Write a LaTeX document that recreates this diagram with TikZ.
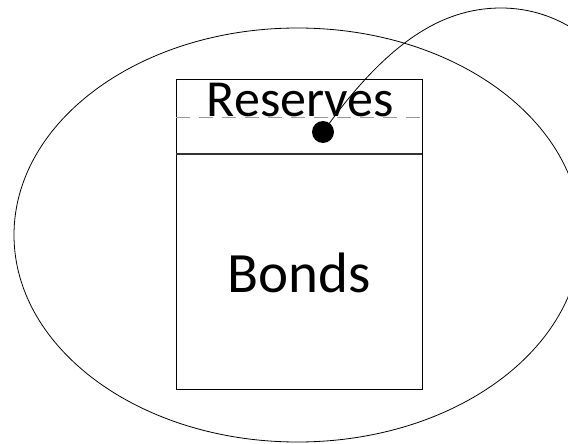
\documentclass[tikz,border=0pt]{standalone}
\usepackage{fontspec}
\setmainfont{Carlito}
\begin{document}
\begin{tikzpicture}[x=1pt,y=-1pt,
  thinline/.style={draw=black,line width=0.8pt},
  lbl/.style={inner sep=0pt,anchor=base}]
\useasboundingbox (0,0) rectangle (568,444);
\draw[thinline] (297.5,235) ellipse [x radius=283.5, y radius=207];
\node[draw=black,line width=0.9pt,minimum width=246pt,minimum height=310pt,inner sep=0pt,anchor=north west] (box) at (176,79) {};
\draw[gray!80,line width=1pt,dash pattern=on 14pt off 9pt] (176,117) coordinate (dl) -- (422,117) coordinate (dr);
\draw[line width=1.3pt,black!80] (176,154) coordinate (sl) -- (422,154) coordinate (sr);
\node[lbl,font=\fontsize{52}{56}\selectfont] (res) at (300.5,117) {Reserves};
\node[lbl,font=\fontsize{57}{62}\selectfont] (bonds) at (299,292) {Bonds};
\node[circle,fill=black,minimum size=22pt,inner sep=0pt] (dot) at (323,132) {};
\coordinate (top) at (501,8);
\coordinate (far) at (575,30);
\draw[thinline] (dot.center) .. controls (385,45) and (440,8) .. (top) .. controls (530,8) and (555,17) .. (far);
\end{tikzpicture}
\end{document}
